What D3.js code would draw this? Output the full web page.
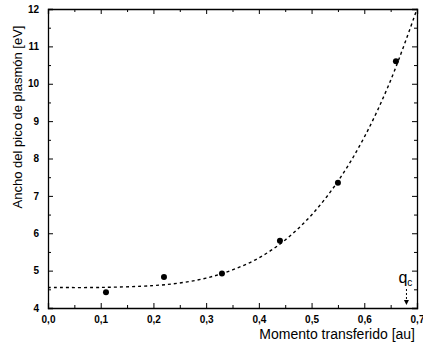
<!DOCTYPE html>
<html>
<head>
<meta charset="utf-8">
<script src="https://cdn.jsdelivr.net/npm/d3@7"></script>
<style>
  body { margin: 0; background: #fff; }
  svg { display: block; }
  text { font-family: Arial, "Liberation Sans", sans-serif; fill: #000; }
</style>
</head>
<body>
<div id="chart"></div>
<script>
// measured points
var momento = [0.11, 0.22, 0.33, 0.44, 0.55, 0.66];
var ancho = [4.42, 4.83, 4.92, 5.80, 7.35, 10.60];

// dashed fit line
var fitX = [0.0, 0.1, 0.2, 0.25, 0.3, 0.35, 0.4, 0.45, 0.5, 0.55, 0.6, 0.65, 0.7];
var fitY = [4.55, 4.55, 4.60, 4.67, 4.80, 5.02, 5.34, 5.82, 6.49, 7.39, 8.57, 10.09, 12.0];

var xTicks = [0, 0.1, 0.2, 0.3, 0.4, 0.5, 0.6, 0.7];
var yTicks = [4, 5, 6, 7, 8, 9, 10, 11, 12];
var qcPos = 0.68;

var W = 423, H = 347;
var margin = {top: 9, right: 6, bottom: 39, left: 48};
var width = W - margin.left - margin.right,
    height = H - margin.top - margin.bottom;

var svg = d3.select("#chart").append("svg")
    .attr("width", W).attr("height", H);
var g = svg.append("g")
    .attr("transform", "translate(" + margin.left + "," + margin.top + ")");

var x = d3.scaleLinear().domain([0, 0.7]).range([0, width]);
var y = d3.scaleLinear().domain([4, 12]).range([height, 0]);

var fmt = function(d) { return d3.format(".1f")(d).replace(".", ","); };

// bottom axis, ticks pointing in
g.append("g").attr("transform", "translate(0," + height + ")")
    .call(d3.axisBottom(x).tickValues(xTicks).tickSize(-5).tickPadding(8).tickFormat(fmt));
// minor x ticks
g.append("g").attr("transform", "translate(0," + height + ")")
    .call(d3.axisBottom(x).tickValues(d3.range(0.05, 0.7, 0.1)).tickSize(-3).tickFormat(""))
    .select(".domain").remove();
// top axis
g.append("g")
    .call(d3.axisTop(x).tickValues(xTicks).tickSize(-5).tickFormat(""));
g.append("g")
    .call(d3.axisTop(x).tickValues(d3.range(0.05, 0.7, 0.1)).tickSize(-3).tickFormat(""))
    .select(".domain").remove();

// left axis
g.append("g")
    .call(d3.axisLeft(y).tickValues(yTicks).tickSize(-5).tickPadding(9).tickFormat(d3.format("d")));
g.append("g")
    .call(d3.axisLeft(y).tickValues(d3.range(4.5, 12, 1)).tickSize(-3).tickFormat(""))
    .select(".domain").remove();
// right axis
g.append("g").attr("transform", "translate(" + width + ",0)")
    .call(d3.axisRight(y).tickValues(yTicks).tickSize(-5).tickFormat(""));
g.append("g").attr("transform", "translate(" + width + ",0)")
    .call(d3.axisRight(y).tickValues(d3.range(4.5, 12, 1)).tickSize(-3).tickFormat(""))
    .select(".domain").remove();

g.selectAll(".domain").attr("stroke", "#000").attr("stroke-width", 1.3);
g.selectAll(".tick line").attr("stroke", "#000");
g.selectAll(".tick text")
    .style("font-size", "10px").style("font-weight", "bold");

// fit curve
var fit = fitX.map(function(d, i) { return [d, fitY[i]]; });
g.append("path")
    .datum(fit)
    .attr("fill", "none")
    .attr("stroke", "#000")
    .attr("stroke-width", 1.4)
    .attr("stroke-dasharray", "3,3")
    .attr("d", d3.line()
        .x(function(d) { return x(d[0]); })
        .y(function(d) { return y(d[1]); })
        .curve(d3.curveCatmullRom));

// points
g.selectAll("circle.pt")
    .data(momento)
    .enter()
    .append("circle")
    .attr("class", "pt")
    .attr("cx", function(d) { return x(d); })
    .attr("cy", function(d, i) { return y(ancho[i]); })
    .attr("r", 3)
    .attr("fill", "#000");

// q_c annotation
var qx = x(qcPos);
var qt = g.append("text")
    .attr("x", qx - 8).attr("y", height - 25)
    .style("font-size", "16px");
qt.append("tspan").text("q");
qt.append("tspan").attr("dy", 3).style("font-size", "10px").text("c");
g.append("line")
    .attr("x1", qx).attr("x2", qx)
    .attr("y1", height - 19).attr("y2", height - 6)
    .attr("stroke", "#000").attr("stroke-dasharray", "2,2");
g.append("path")
    .attr("d", "M" + (qx - 2.5) + "," + (height - 8) + "L" + (qx + 2.5) + "," + (height - 8) + "L" + qx + "," + (height - 3) + "Z")
    .attr("fill", "#000");

// axis titles
svg.append("text")
    .attr("x", W - 8).attr("y", H - 8)
    .attr("text-anchor", "end")
    .style("font-size", "14px")
    .text("Momento transferido [au]");

svg.append("text")
    .attr("transform", "translate(22,117) rotate(-90)")
    .attr("text-anchor", "middle")
    .style("font-size", "13px")
    .text("Ancho del pico de plasmón [eV]");
</script>
</body>
</html>
